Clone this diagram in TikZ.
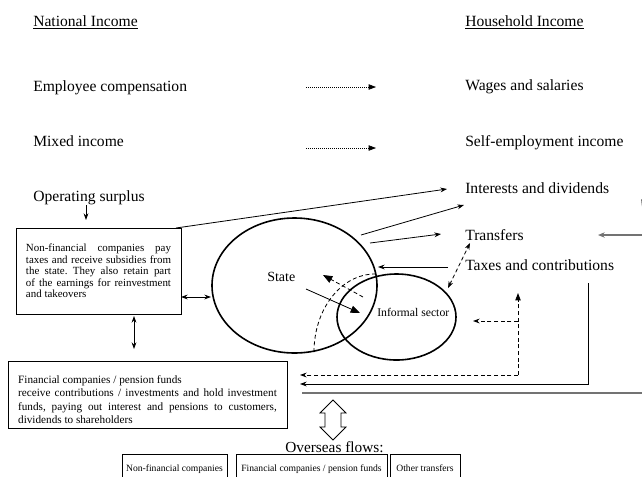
\documentclass[tikz,border=0pt]{standalone}
\usepackage{fontspec}
\setmainfont{Liberation Serif}
\usetikzlibrary{arrows.meta,shapes.geometric}
\frenchspacing
\begin{document}
\begin{tikzpicture}[x=0.75pt,y=-0.75pt,
  lbl/.style={anchor=base west,inner sep=0pt,font=\fontsize{11.7}{14}\selectfont},
  thin line/.style={line width=0.6pt},
  arr/.style={thin line,-{Stealth[length=5pt,width=3.6pt]}},
  darr/.style={thin line,{Stealth[length=5pt,width=3.6pt]}-{Stealth[length=5pt,width=3.6pt]}},
  dotarr/.style={line width=0.5pt,densely dotted,-{Triangle[length=5.5pt,width=4pt]}},
  dsh/.style={thin line,dash pattern=on 3pt off 2pt},
  bigarr/.style={thin line,-{Triangle[length=7pt,width=5.5pt]}},
  greyline/.style={line width=0.9pt,draw=black!55},
  sector/.style={draw,ellipse,line width=1.2pt,inner sep=0pt},
  nfbox/.style={draw,thin line,text width=108.75pt,align=justify,inner xsep=7.5pt,
    minimum height=64.5pt,font=\fontsize{8.2}{8.6}\selectfont},
  obox/.style={draw,thin line,anchor=north,text height=5pt,text depth=1.5pt,inner ysep=7.75pt,
    inner xsep=0pt,font=\fontsize{7.2}{8}\selectfont}
]
\useasboundingbox (0,0) rectangle (642,476);
\clip (0,0) rectangle (642,476);
\hyphenpenalty=10000 \exhyphenpenalty=10000

% headings and labels
\node[lbl] (ni) at (33,26.7) {\underline{National Income}};
\node[lbl] (hi) at (465,26.7) {\underline{Household Income}};
\node[lbl] (ec) at (33,91) {Employee compensation};
\node[lbl] (mi) at (33,146.7) {Mixed income};
\node[lbl] (os) at (33,201) {Operating surplus};
\node[lbl] (ws) at (465,90) {Wages and salaries};
\node[lbl] (se) at (465,146.7) {Self-employment income};
\node[lbl] (id) at (465,193) {Interests and dividends};
\node[lbl] (tr) at (465,240) {Transfers};
\node[lbl] (tc) at (465,270.7) {Taxes and contributions};

% dotted arrows
\coordinate (d1s) at (306,87); \coordinate (d1e) at (376,87);
\coordinate (d2s) at (306,148); \coordinate (d2e) at (376,148);
\draw[dotarr] (d1s) -- (d1e);
\draw[dotarr] (d2s) -- (d2e);

% non-financial box
\node[nfbox] (nf) at (98.5,271) {Non-financial companies pay\linebreak
taxes and receive subsidies from\linebreak
the state. They also retain part\linebreak
of the earnings for reinvestment\linebreak
and takeovers};

% operating surplus arrow
\coordinate (o1) at (86,205); \coordinate (o2) at (86,220);
\draw[arr] (o1) -- (o2);

% ellipses
\node[sector,minimum width=123.75pt,minimum height=101.25pt] (st) at (294.5,285.5) {};
\node[anchor=base west,inner sep=0pt,font=\fontsize{10.5}{12}\selectfont] (stl) at (267,281) {State};
\node[sector,minimum width=89.25pt,minimum height=64.5pt] (inf) at (396.5,317) {};
\node[anchor=base west,inner sep=0pt,font=\fontsize{8.8}{10}\selectfont] (infl) at (377,316) {Informal sector};

% arrows to household income
\coordinate (nfc) at (176,228); \coordinate (idt) at (447,189);
\draw[arr] (nfc) -- (idt);
\coordinate (s1) at (361,235); \coordinate (s1e) at (464,205);
\draw[arr] (s1) -- (s1e);
\coordinate (s2) at (370,243); \coordinate (s2e) at (441,234);
\draw[arr] (s2) -- (s2e);
\coordinate (t1) at (448,267); \coordinate (t1e) at (378,267);
\draw[arr] (t1) -- (t1e);

% inner arrows
\coordinate (a1) at (306,289); \coordinate (a1e) at (360,313);
\draw[bigarr] (a1) -- (a1e);
\coordinate (a2) at (363,297); \coordinate (a2e) at (323,275);
\draw[bigarr,dsh] (a2) -- (a2e);
\coordinate (c1) at (314,352); \coordinate (c2) at (375,274);
\draw[dsh] (c1) .. controls (314,309) and (341.3,274) .. (c2);

% dashed double arrow transfers / informal
\coordinate (b1) at (448,288); \coordinate (b2) at (470,243);
\draw[darr,dsh] (b1) -- (b2);

% financial box
\node[draw,thin line,minimum width=209.25pt,minimum height=50.25pt,inner sep=0pt] (fin) at (147.5,394.5) {};
\node[text width=194pt,align=justify,inner sep=0pt,font=\fontsize{8.4}{10}\selectfont] (fint) at (147.5,399.5)
{Financial companies / pension funds\\
receive contributions / investments and hold investment\linebreak
funds, paying out interest and pensions to customers,\linebreak
dividends to shareholders};

% connectors between boxes
\coordinate (h1) at (181,297); \coordinate (h2) at (211,297);
\draw[darr] (h1) -- (h2);
\coordinate (v1) at (134,316); \coordinate (v2) at (134,349);
\draw[darr] (v1) -- (v2);

% dashed path
\coordinate (dc) at (518,375); \coordinate (dl) at (300,375);
\coordinate (du) at (518,293); \coordinate (dm) at (518,321); \coordinate (dme) at (473,321);
\draw[dsh,-{Stealth[length=5pt,width=3.6pt]}] (dc) -- (dl);
\draw[dsh,-{Triangle[length=5.5pt,width=4pt]}] (dc) -- (du);
\draw[dsh,-{Stealth[length=5pt,width=3.6pt]}] (dm) -- (dme);

% solid path
\coordinate (p1) at (588,283); \coordinate (p2) at (588,384); \coordinate (p3) at (300,384);
\draw[arr] (p1) -- (p2) -- (p3);

% grey lines
\coordinate (g1) at (302,393); \coordinate (g2) at (645,393);
\draw[greyline] (g1) -- (g2);
\coordinate (g3) at (645,235); \coordinate (g4) at (598,235);
\draw[greyline,-{Stealth[length=5pt,width=4pt]}] (g3) -- (g4);
\coordinate (g5) at (652,219); \coordinate (g6) at (641,199);
\draw[greyline,-{Stealth[length=5pt,width=4pt]}] (g5) -- (g6);

% hollow double arrow
\draw[thin line,fill=white] (333,400) -- (346,413) -- (341,413) -- (341,427) -- (346,427)
  -- (333,440) -- (320,427) -- (325,427) -- (325,413) -- (320,413) -- cycle;

\node[anchor=base,inner sep=0pt,font=\fontsize{11.5}{14}\selectfont] (of) at (334.5,452) {Overseas flows:};

% overseas boxes
\node[obox,minimum width=78.75pt] (ob1) at (174.5,454) {Non-financial companies};
\node[obox,minimum width=113.25pt] (ob2) at (311.5,454) {Financial companies / pension funds};
\node[obox,minimum width=52.5pt] (ob3) at (425,454) {Other transfers};
\end{tikzpicture}
\end{document}
